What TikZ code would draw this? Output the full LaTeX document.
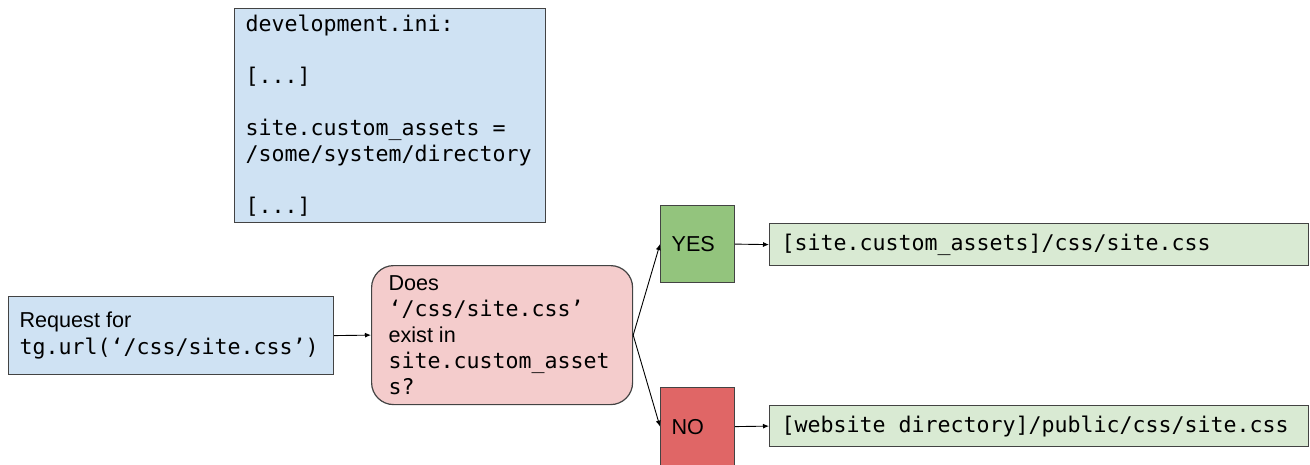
\documentclass[tikz,border=0pt]{standalone}
\usepackage{fontspec}
\setmainfont{Liberation Sans}
\setmonofont{DejaVu Sans Mono}
\usepackage{xcolor}
\usepackage{tikz}
\usetikzlibrary{positioning}
\usetikzlibrary{arrows.meta}
\definecolor{boxline}{HTML}{434343}
\definecolor{configblue}{HTML}{CFE2F3}
\definecolor{checkpink}{HTML}{F4CCCC}
\definecolor{yesgreen}{HTML}{93C47D}
\definecolor{nored}{HTML}{E06666}
\definecolor{pathgreen}{HTML}{D9EAD3}
\newcommand{\pathword}[1]{\texttt{#1}}

\begin{document}
\begin{tikzpicture}[x=1pt, y=-1pt,
basebox/.style={rectangle, draw=boxline, line width=1.2pt, anchor=north west, align=flush left, inner ysep=0pt, font=\fontsize{21.6}{26}\selectfont},
configbox/.style={basebox, fill=configblue, inner xsep=11pt},
checkbox/.style={basebox, fill=checkpink, rounded corners=22pt, inner xsep=17pt},
answerbox/.style={basebox, inner xsep=11pt, text width=52pt, minimum height=77pt},
pathbox/.style={basebox, fill=pathgreen, inner xsep=12pt, text width=515pt, minimum height=42pt, font=\ttfamily\fontsize{21.6}{26}\selectfont},
flowarrow/.style={draw=black, line width=0.9pt, -{Latex[length=6pt,width=5pt]}},
]
\useasboundingbox (0,0) rectangle (1310,464);

%Nodes
\node[configbox, text width=289pt, minimum height=214pt, font=\ttfamily\fontsize{21.6}{26}\selectfont]
	(config) at (234,8) {development.ini:\\[26pt]{[...]}\\[26pt]site.custom\_assets =\\/some/system/directory\\[26pt]{[...]}};
\node[configbox, text width=303pt, minimum height=78pt, font=\fontsize{21.6}{27}\selectfont]
	(request) at (8,296) {Request for\\\pathword{tg.url(‘/css/site.css’)}};
\node[checkbox, text width=227pt, minimum height=139pt]
	(check) at (371,265) {Does\\\pathword{‘/css/site.css’}\\exist in\\\pathword{site.custom\_asset}\\\pathword{s?}};
\node[answerbox, fill=yesgreen]		(yes)		at (660,205)	{YES};
\node[answerbox, fill=nored, minimum height=78pt]	(no)	at (660,387)	{NO};
\node[pathbox]		(custompath)	at (769,223)	{[site.custom\_assets]/css/site.css};
\node[pathbox, minimum height=41pt]	(publicpath)	at (769,405)	{[website directory]/public/css/site.css};

%Lines
\draw[flowarrow] (request.east) -- (check.west);
\draw[flowarrow] (check.east) -- (yes.west);
\draw[flowarrow] (check.east) -- (no.west);
\draw[flowarrow] (yes.east) -- (custompath.west);
\draw[flowarrow] (no.east) -- (publicpath.west);
\end{tikzpicture}
\end{document}
